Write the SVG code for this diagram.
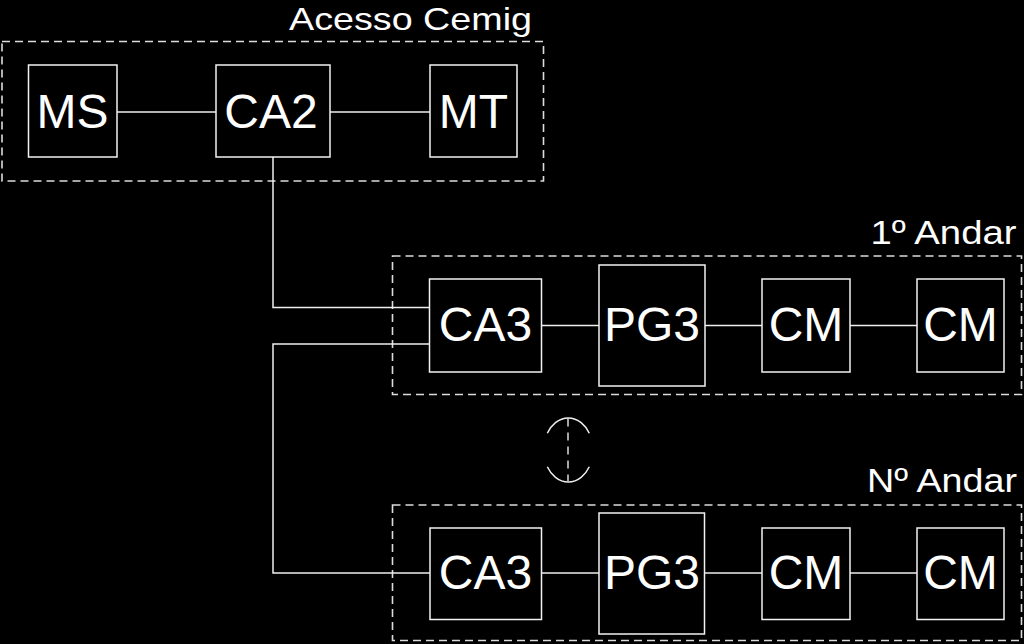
<svg xmlns="http://www.w3.org/2000/svg" width="1024" height="644" viewBox="0 0 1024 644">
<style>
.bg{fill:#000}
.box{fill:#000;stroke:#f2f2f2;stroke-width:1.5}
.grp{fill:none;stroke:#dcdcdc;stroke-width:1.6;stroke-dasharray:8 5}
.ln{fill:none;stroke:#eeeeee;stroke-width:1.5}
.lbl{font-family:"Liberation Sans",Arial,sans-serif;font-size:48px;fill:#fff;text-anchor:middle}
.ttl{font-family:"Liberation Sans",Arial,sans-serif;font-size:33px;fill:#fff}
</style>
<rect class="bg" x="0" y="0" width="1024" height="644"/>
<g id="grp-acesso">
<rect class="grp" x="2" y="41.5" width="541.5" height="139.5"/>
<text class="ttl" x="289" y="29.5" textLength="243" lengthAdjust="spacingAndGlyphs" style="font-size:32px">Acesso Cemig</text>
</g>
<g id="grp-1andar">
<rect class="grp" x="392.5" y="256" width="629" height="138.5"/>
<text class="ttl" x="870.5" y="244" textLength="146" lengthAdjust="spacingAndGlyphs">1º Andar</text>
</g>
<g id="grp-nandar">
<rect class="grp" x="392.5" y="505" width="629" height="135.5"/>
<text class="ttl" x="867" y="492" textLength="150" lengthAdjust="spacingAndGlyphs">Nº Andar</text>
</g>
<g id="connectors">
<line class="ln" x1="117" y1="112" x2="216" y2="112"/>
<line class="ln" x1="330" y1="112" x2="430" y2="112"/>
<polyline class="ln" points="273,157 273,307.5 430,307.5"/>
<polyline class="ln" points="430,344 273,344 273,573 430,573"/>
<line class="ln" x1="541.5" y1="325.5" x2="599" y2="325.5"/>
<line class="ln" x1="705" y1="325.5" x2="762" y2="325.5"/>
<line class="ln" x1="850" y1="325.5" x2="917" y2="325.5"/>
<line class="ln" x1="541.5" y1="573" x2="599" y2="573"/>
<line class="ln" x1="705" y1="573" x2="762" y2="573"/>
<line class="ln" x1="850" y1="573" x2="917" y2="573"/>
</g>
<g id="node-ms"><rect class="box" x="28.5" y="65" width="88.5" height="92"/><text class="lbl" x="72.5" y="128">MS</text></g>
<g id="node-ca2"><rect class="box" x="216" y="65" width="114" height="92"/><text class="lbl" x="271" y="128">CA2</text></g>
<g id="node-mt"><rect class="box" x="430" y="65" width="87" height="92"/><text class="lbl" x="473.5" y="128">MT</text></g>
<g id="node-ca3-1"><rect class="box" x="429.5" y="279" width="112" height="93"/><text class="lbl" x="485.5" y="341">CA3</text></g>
<g id="node-pg3-1"><rect class="box" x="599" y="265" width="106" height="121"/><text class="lbl" x="652" y="341">PG3</text></g>
<g id="node-cm1-1"><rect class="box" x="762" y="279" width="88" height="93"/><text class="lbl" x="806" y="341">CM</text></g>
<g id="node-cm2-1"><rect class="box" x="917" y="279" width="87" height="93"/><text class="lbl" x="960.5" y="341">CM</text></g>
<g id="node-ca3-n"><rect class="box" x="430" y="528" width="111.5" height="91.5"/><text class="lbl" x="485.5" y="588.5">CA3</text></g>
<g id="node-pg3-n"><rect class="box" x="599" y="513" width="105.5" height="121"/><text class="lbl" x="652" y="588.5">PG3</text></g>
<g id="node-cm1-n"><rect class="box" x="762" y="528" width="88" height="91.5"/><text class="lbl" x="806" y="588.5">CM</text></g>
<g id="node-cm2-n"><rect class="box" x="917" y="528" width="87" height="91.5"/><text class="lbl" x="960.5" y="588.5">CM</text></g>
<g id="ellipsis">
<path class="ln" d="M547.3,433.3 A24.5,31.5 0 0 1 589.3,433.3"/>
<path class="ln" d="M547.3,466.7 A24.5,31.5 0 0 0 589.3,466.7"/>
<line class="ln" x1="568" y1="418.5" x2="568" y2="481" style="stroke-dasharray:8 6;stroke:#dcdcdc"/>
</g>
</svg>
